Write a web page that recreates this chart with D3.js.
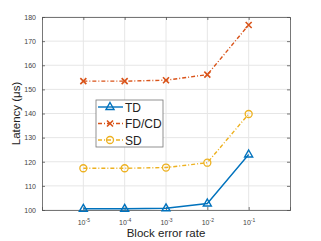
<!DOCTYPE html>
<html>
<head>
<meta charset="utf-8">
<script src="https://cdn.jsdelivr.net/npm/d3@7"></script>
<style>
  body { margin: 0; background: #fff; }
  svg { font-family: "Liberation Sans", Arial, sans-serif; }
</style>
</head>
<body>
<div id="chart"></div>
<script>
// chart values
const xExps = [-5, -4, -3, -2, -1];
const tdValues = [100.5, 100.5, 100.7, 102.7, 123.0];
const fdcdValues = [153.4, 153.4, 153.8, 156.1, 176.7];
const sdValues = [117.3, 117.3, 117.6, 119.6, 139.8];
const yTicks = [100, 110, 120, 130, 140, 150, 160, 170, 180];
const seriesNames = ["TD", "FD/CD", "SD"];

const width = 321, height = 241;
const margin = {left: 42, right: 31, top: 17, bottom: 31};
const innerW = width - margin.left - margin.right,
    innerH = height - margin.top - margin.bottom;

const series = [
    {name: seriesNames[0], values: tdValues, color: "#0072BD", dash: null, marker: "tri"},
    {name: seriesNames[1], values: fdcdValues, color: "#D95319", dash: "4,2,1,2", marker: "x"},
    {name: seriesNames[2], values: sdValues, color: "#EDB120", dash: "4,2,1,2", marker: "circle"}
];

const svg = d3.select("#chart").append("svg")
    .attr("width", width)
    .attr("height", height);
const g = svg.append("g")
    .attr("transform", "translate(" + margin.left + "," + margin.top + ")");

const x = d3.scaleLog().domain([1e-6, 1]).range([0, innerW]);
const y = d3.scaleLinear().domain([100, 180]).range([innerH, 0]);

const xTickVals = xExps.map(e => Math.pow(10, e));

// grid
g.append("g").selectAll("line.gx").data(xTickVals).join("line")
    .attr("x1", d => x(d)).attr("x2", d => x(d))
    .attr("y1", 0).attr("y2", innerH)
    .attr("stroke", "#e6e6e6").attr("stroke-width", 1);
g.append("g").selectAll("line.gy").data(yTicks).join("line")
    .attr("x1", 0).attr("x2", innerW)
    .attr("y1", d => y(d)).attr("y2", d => y(d))
    .attr("stroke", "#e6e6e6").attr("stroke-width", 1);

// axes
const xAxis = d3.axisBottom(x).tickValues(xTickVals).tickSize(-3).tickPadding(6)
    .tickFormat(() => "");
const xg = g.append("g").attr("transform", "translate(0," + innerH + ")").call(xAxis);
xg.selectAll(".tick").each(function(d, i) {
    const t = d3.select(this).append("text")
        .attr("y", 15).attr("text-anchor", "middle")
        .attr("fill", "#444").attr("font-size", 7);
    t.append("tspan").text("10");
    t.append("tspan").attr("dy", -3).attr("font-size", 5).text(String(xExps[i]));
});
const yAxis = d3.axisLeft(y).tickValues(yTicks).tickSize(-3).tickPadding(6);
const yg = g.append("g").call(yAxis);
yg.selectAll("text").attr("fill", "#444").attr("font-size", 7);

const xAxisR = d3.axisTop(x).tickValues(xTickVals).tickSize(-3).tickFormat("");
g.append("g").call(xAxisR);
const yAxisR = d3.axisRight(y).tickValues(yTicks).tickSize(-3).tickFormat("");
g.append("g").attr("transform", "translate(" + innerW + ",0)").call(yAxisR);

g.selectAll(".domain").attr("stroke", "#555").attr("stroke-width", 0.8);
g.selectAll(".tick line").attr("stroke", "#555").attr("stroke-width", 0.8);

// labels
svg.append("text")
    .attr("x", margin.left + innerW / 2).attr("y", 237)
    .attr("text-anchor", "middle").attr("font-size", 11.5).attr("fill", "#222")
    .text("Block error rate");
svg.append("text")
    .attr("transform", "translate(20," + (margin.top + innerH / 2) + ") rotate(-90)")
    .attr("text-anchor", "middle").attr("font-size", 11.5).attr("fill", "#222")
    .text("Latency (\u03BCs)");

function drawMarker(sel, type, color) {
    if (type === "tri") {
        sel.append("path").attr("d", "M0,-4.5L4,2.5L-4,2.5Z")
            .attr("fill", "none").attr("stroke", color).attr("stroke-width", 1.4);
    } else if (type === "x") {
        sel.append("path").attr("d", "M-3,-3L3,3M-3,3L3,-3")
            .attr("stroke", color).attr("stroke-width", 1.6);
    } else {
        sel.append("circle").attr("r", 3.5)
            .attr("fill", "none").attr("stroke", color).attr("stroke-width", 1.3);
    }
}

const line = d3.line().x((d, i) => x(xTickVals[i])).y(d => y(d));

series.forEach(s => {
    g.append("path").datum(s.values)
        .attr("d", line)
        .attr("fill", "none")
        .attr("stroke", s.color)
        .attr("stroke-width", 1.4)
        .attr("stroke-dasharray", s.dash);
    s.values.forEach((v, i) => {
        const m = g.append("g").attr("transform", "translate(" + x(xTickVals[i]) + "," + y(v) + ")");
        drawMarker(m, s.marker, s.color);
    });
});

// legend
const leg = svg.append("g").attr("transform", "translate(96,100)");
leg.append("rect").attr("width", 67).attr("height", 47)
    .attr("fill", "#fff").attr("stroke", "#777").attr("stroke-width", 0.8);
series.forEach((s, i) => {
    const row = leg.append("g").attr("transform", "translate(0," + (7 + i * 16.5) + ")");
    row.append("line").attr("x1", 2).attr("x2", 27).attr("y1", 0).attr("y2", 0)
        .attr("stroke", s.color).attr("stroke-width", 1.4)
        .attr("stroke-dasharray", s.dash);
    drawMarker(row.append("g").attr("transform", "translate(14,0)"), s.marker, s.color);
    row.append("text").attr("x", 29).attr("y", 4.5)
        .attr("font-size", 12).attr("fill", "#222").text(s.name);
});
</script>
</body>
</html>
